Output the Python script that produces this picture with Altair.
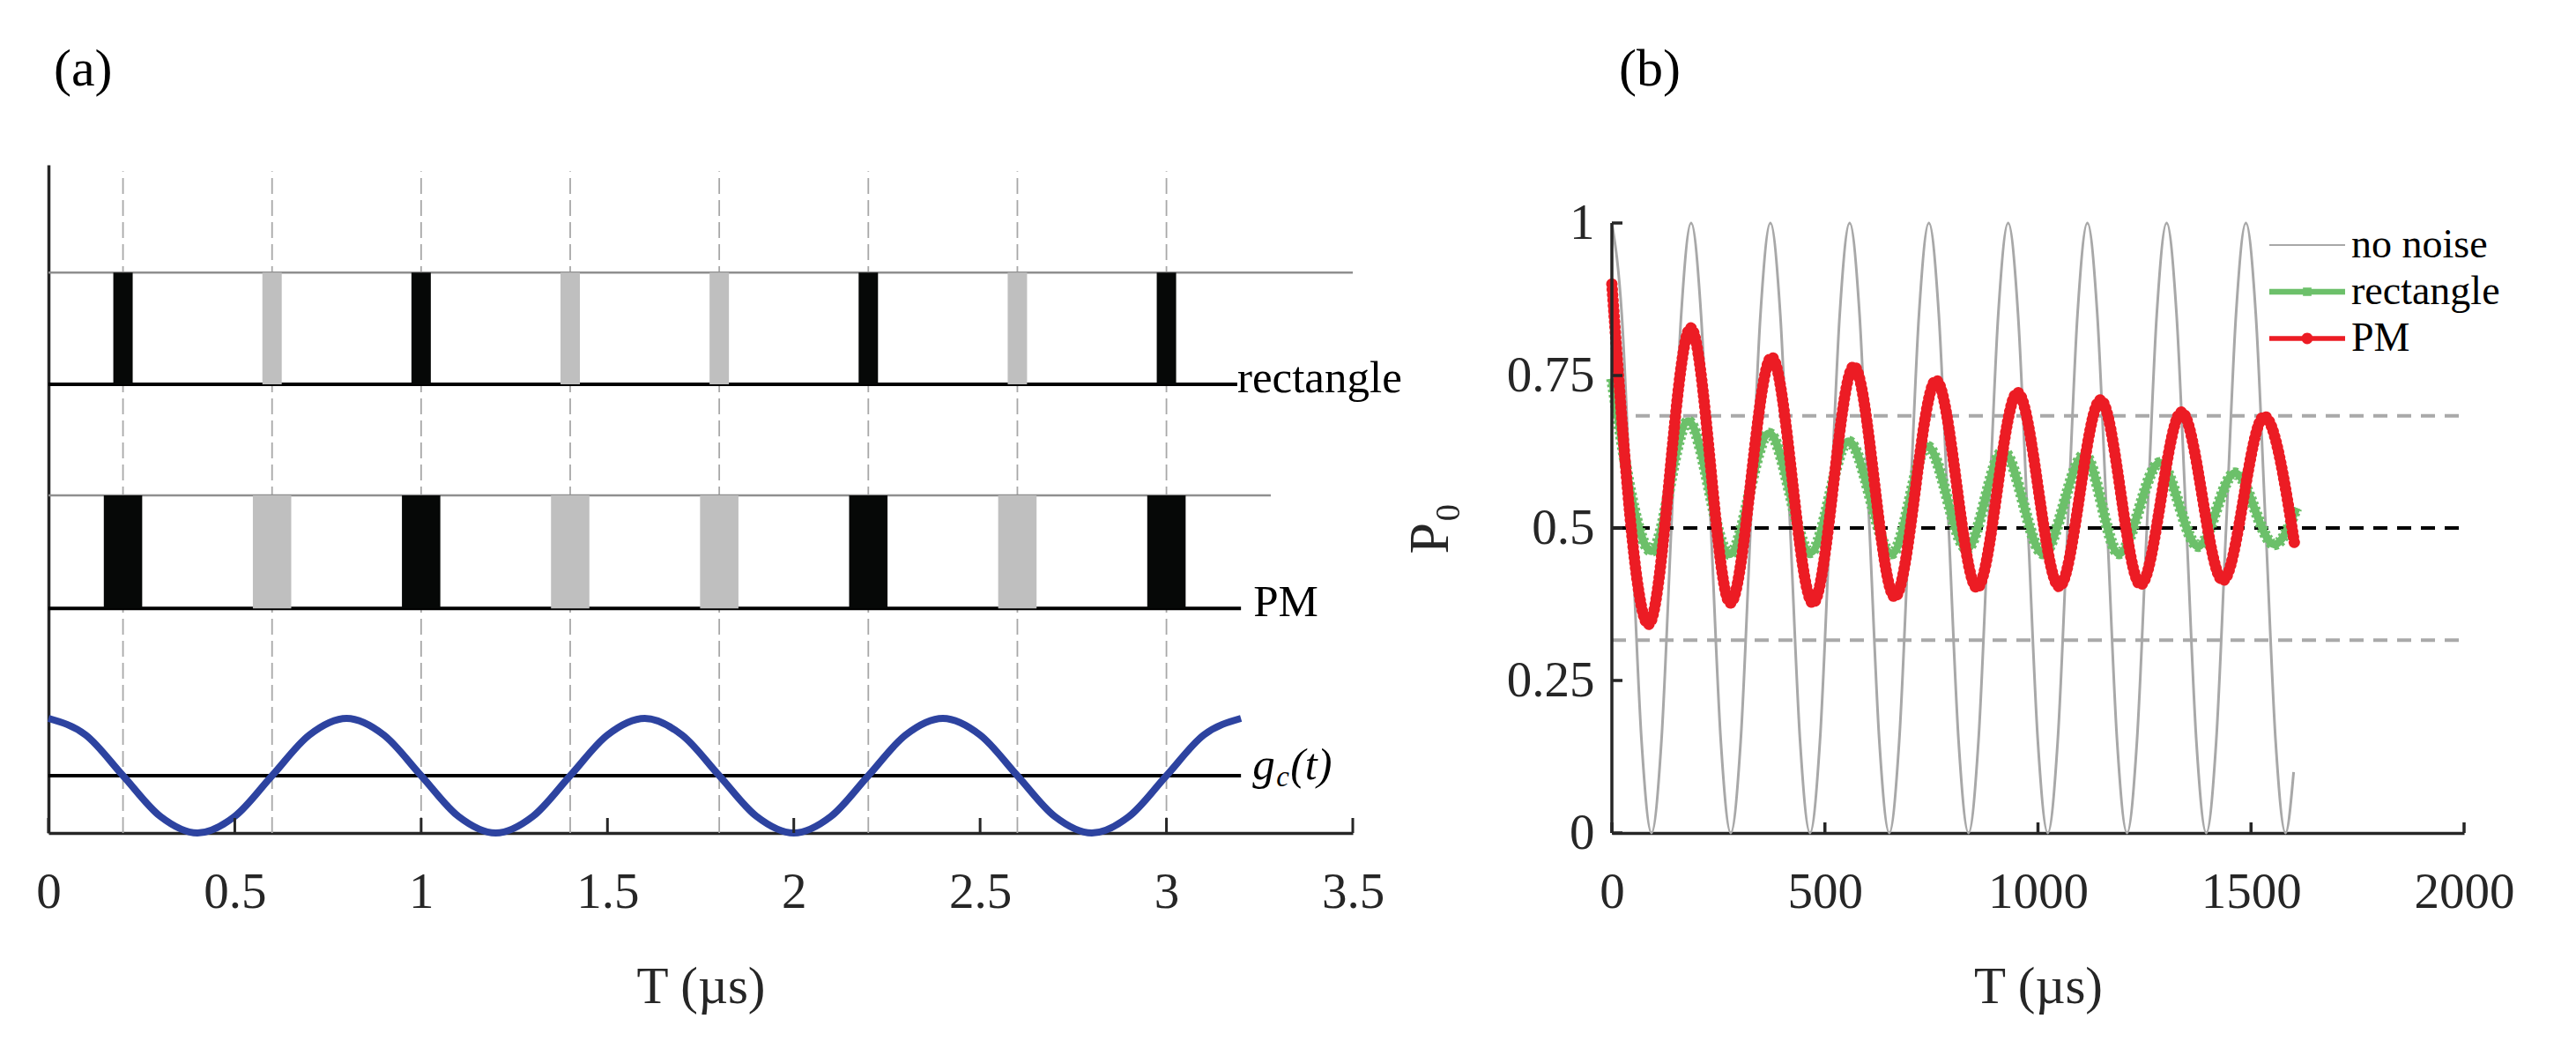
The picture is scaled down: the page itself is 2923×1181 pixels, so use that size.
import altair as alt
import pandas as pd

# ================= panel (a) : pulse sequences and g_c(t) =================
pulse_centers = [0.2, 0.6, 1.0, 1.4, 1.8, 2.2, 2.6, 3.0]
pulse_shade = ["dark", "light", "dark", "light", "light", "dark", "light", "dark"]
rect_pulse_width = 0.052
pm_pulse_width = 0.103
rect_row = [6.83, 8.78]      # bottom / top level of the "rectangle" row
pm_row = [2.92, 4.89]        # bottom / top level of the "PM" row
marker_span = [-1.0, 10.55]  # extent of the dashed pulse markers

base_y = [6.83, 2.92, 0.0]
base_end = [3.19, 3.20, 3.20]
top_y = [8.78, 4.89]
top_end = [3.50, 3.28]

gc_t = [0.0, 0.1, 0.2, 0.3, 0.4, 0.5, 0.6, 0.7, 0.8, 0.9, 1.0, 1.1, 1.2, 1.3, 1.4, 1.5, 1.6,
        1.7, 1.8, 1.9, 2.0, 2.1, 2.2, 2.3, 2.4, 2.5, 2.6, 2.7, 2.8, 2.9, 3.0, 3.1, 3.2]
gc_v = [1, 0.71, 0, -0.71, -1, -0.71, 0, 0.71, 1, 0.71, 0, -0.71, -1, -0.71, 0, 0.71, 1,
        0.71, 0, -0.71, -1, -0.71, 0, 0.71, 1, 0.71, 0, -0.71, -1, -0.71, 0, 0.71, 1]

a_ticks = [0, 0.5, 1, 1.5, 2, 2.5, 3, 3.5]

# ================= panel (b) : P0 vs T =================
gray_T = [0, 23.25, 46.5, 69.75, 93, 116.25, 139.5, 162.75, 186, 209.25, 232.5, 255.75, 279,
          302.25, 325.5, 348.75, 372, 395.25, 418.5, 441.75, 465, 488.25, 511.5, 534.75, 558,
          581.25, 604.5, 627.75, 651, 674.25, 697.5, 720.75, 744, 767.25, 790.5, 813.75, 837,
          860.25, 883.5, 906.75, 930, 953.25, 976.5, 999.75, 1023, 1046.25, 1069.5, 1092.75,
          1116, 1139.25, 1162.5, 1185.75, 1209, 1232.25, 1255.5, 1278.75, 1302, 1325.25,
          1348.5, 1371.75, 1395, 1418.25, 1441.5, 1464.75, 1488, 1511.25, 1534.5, 1557.75,
          1581, 1600]
gray_P = [1, 0.85, 0.5, 0.15, 0, 0.15, 0.5, 0.85,
          1, 0.85, 0.5, 0.15, 0, 0.15, 0.5, 0.85,
          1, 0.85, 0.5, 0.15, 0, 0.15, 0.5, 0.85,
          1, 0.85, 0.5, 0.15, 0, 0.15, 0.5, 0.85,
          1, 0.85, 0.5, 0.15, 0, 0.15, 0.5, 0.85,
          1, 0.85, 0.5, 0.15, 0, 0.15, 0.5, 0.85,
          1, 0.85, 0.5, 0.15, 0, 0.15, 0.5, 0.85,
          1, 0.85, 0.5, 0.15, 0, 0.15, 0.5, 0.85,
          1, 0.85, 0.5, 0.15, 0, 0.1]

green_T = [0, 93, 179, 276, 369, 466, 555, 657, 740, 833, 918, 1012, 1109, 1190, 1286,
           1376, 1462, 1555, 1607]
green_P = [0.745, 0.462, 0.675, 0.457, 0.655, 0.46, 0.642, 0.458, 0.634, 0.466, 0.626,
           0.458, 0.62, 0.458, 0.607, 0.47, 0.59, 0.473, 0.533]

red_T = [0, 86, 185, 278, 375, 472, 568, 664, 761, 857, 952, 1050, 1147, 1241, 1337, 1434,
         1531, 1603]
red_P = [0.90, 0.342, 0.828, 0.377, 0.78, 0.377, 0.765, 0.387, 0.742, 0.402, 0.722, 0.404,
         0.71, 0.407, 0.69, 0.414, 0.683, 0.47]

gray_levels = [0.684, 0.316]
black_levels = [0.5]
level_span = [0, 2000]

b_xticks = [0, 500, 1000, 1500, 2000]
b_yticks = [0, 0.25, 0.5, 0.75, 1]

series_names = ["no noise", "rectangle", "PM"]
series_colors = ["#a8a8a8", "#6cc06a", "#ec1c24"]
series_symbols = [
    "M-4,-0.1H4V0.1H-4Z",
    "M-4,-0.3H4V0.3H-4Z M-0.45,-0.45H0.45V0.45H-0.45Z",
    "M-4,-0.25H4V0.25H-4Z M-0.6,0A0.6,0.6 0 1,1 0.6,0A0.6,0.6 0 1,1 -0.6,0Z",
]

FONT = "Liberation Serif"
INK = "#262626"
LABEL_EXPR = "'' + datum.value"

# ------------------------------------------------------------------ panel (a)
A_W, A_H = 1480, 758
sx_a = alt.Scale(domain=[0, 3.5], nice=False, zero=False)
sy_a = alt.Scale(domain=[-1, 10.66], nice=False, zero=False)
axis_x_a = alt.Axis(values=a_ticks, labelExpr=LABEL_EXPR, title="T (µs)", labelPadding=39,
                    titlePadding=50, labelFlush=False, labelOverlap=False)
axis_y_a = alt.Axis(labels=False, ticks=False, title=None, domain=True)


def XA(f):
    return alt.X(f, type="quantitative", scale=sx_a, axis=axis_x_a)


def YA(f):
    return alt.Y(f, type="quantitative", scale=sy_a, axis=axis_y_a)


markers_df = pd.DataFrame({"t": pulse_centers, "y0": marker_span[0], "y1": marker_span[1]})
pulses_df = pd.concat([
    pd.DataFrame({"t": pulse_centers, "shade": pulse_shade, "w": rect_pulse_width,
                  "y0": rect_row[0], "y1": rect_row[1]}),
    pd.DataFrame({"t": pulse_centers, "shade": pulse_shade, "w": pm_pulse_width,
                  "y0": pm_row[0], "y1": pm_row[1]}),
])
base_df = pd.DataFrame({"x0": [0, 0, 0], "x1": base_end, "y": base_y})
top_df = pd.DataFrame({"x0": [0, 0], "x1": top_end, "y": top_y})
gc_df = pd.DataFrame({"t": gc_t, "v": gc_v})
a_tick_df = pd.DataFrame({"t": a_ticks})

a_markers = alt.Chart(markers_df).mark_rule(color="#a8a8a8", strokeWidth=1.8,
                                            strokeDash=[18, 7]).encode(
    x=XA("t"), y=YA("y0"), y2="y1")
a_top = alt.Chart(top_df).mark_rule(color="#8f8f8f", strokeWidth=2.5).encode(
    x=XA("x0"), x2="x1", y=YA("y"))
a_base = alt.Chart(base_df).mark_rule(color="black", strokeWidth=4).encode(
    x=XA("x0"), x2="x1", y=YA("y"))
a_pulses = alt.Chart(pulses_df).transform_calculate(
    x0="datum.t - datum.w / 2", x1="datum.t + datum.w / 2"
).mark_rect().encode(
    x=XA("x0:Q"), x2="x1:Q", y=YA("y0"), y2="y1",
    color=alt.Color("shade:N", scale=alt.Scale(domain=["dark", "light"],
                                               range=["#060807", "#bfbfbf"]), legend=None))
a_gc = alt.Chart(gc_df).mark_line(color="#2d43a0", strokeWidth=8,
                                  interpolate="monotone").encode(x=XA("t"), y=YA("v"))
a_ticks_in = alt.Chart(a_tick_df).mark_rule(color=INK, strokeWidth=3).encode(
    x=XA("t"), y=alt.value(A_H), y2=alt.value(A_H - 17))

lab_rect = alt.Chart(pd.DataFrame({"x": [base_end[0]], "y": [base_y[0]], "s": ["rectangle"]})).mark_text(
    align="left", baseline="alphabetic", dx=0, dy=9, font=FONT, fontSize=51, color="black").encode(
    x=XA("x"), y=YA("y"), text="s:N")
lab_pm = alt.Chart(pd.DataFrame({"x": [base_end[1]], "y": [base_y[1]], "s": ["PM"]})).mark_text(
    align="left", baseline="alphabetic", dx=14, dy=9, font=FONT, fontSize=51, color="black").encode(
    x=XA("x"), y=YA("y"), text="s:N")
gc_lab_df = pd.DataFrame({"x": [base_end[2]], "y": [base_y[2]], "g": ["g"], "c": ["c"], "t": ["(t)"]})
lab_g = alt.Chart(gc_lab_df).mark_text(
    align="left", baseline="alphabetic", dx=13, dy=4, font=FONT, fontSize=51,
    fontStyle="italic", color="black").encode(x=XA("x"), y=YA("y"), text="g:N")
lab_c = alt.Chart(gc_lab_df).mark_text(
    align="left", baseline="alphabetic", dx=40, dy=12, font=FONT, fontSize=33,
    fontStyle="italic", color="black").encode(x=XA("x"), y=YA("y"), text="c:N")
lab_t = alt.Chart(gc_lab_df).mark_text(
    align="left", baseline="alphabetic", dx=56, dy=4, font=FONT, fontSize=50,
    fontStyle="italic", color="black").encode(x=XA("x"), y=YA("y"), text="t:N")

panel_a = alt.layer(
    a_markers, a_top, a_base, a_pulses, a_gc, a_ticks_in, lab_rect, lab_pm, lab_g, lab_c, lab_t
).properties(
    width=A_W, height=A_H,
    title=alt.TitleParams("(a)", anchor="start", frame="group", offset=30, dx=6,
                          fontSize=60, font=FONT, fontWeight="normal", color="black",
                          baseline="alphabetic"))

# ------------------------------------------------------------------ panel (b)
# same outer height as panel (a); the value 1 sits 692 px above the axis
B_W, B_H = 967, 758
B_UNIT = 692
sx_b = alt.Scale(domain=[0, 2000], nice=False, zero=False)
sy_b = alt.Scale(domain=[0, B_H / B_UNIT], nice=False, zero=False)
axis_x_b = alt.Axis(values=b_xticks, labelExpr=LABEL_EXPR, title="T (µs)", labelPadding=39,
                    titlePadding=50, labelFlush=False, labelOverlap=False)
axis_y_b = alt.Axis(values=b_yticks, labelExpr=LABEL_EXPR, title="P₀", labelPadding=20,
                    titlePadding=54, titleFontSize=64, titleY=B_H - B_UNIT / 2,
                    labelFlush=False, labelOverlap=False, domain=False)


def XB(f):
    return alt.X(f, type="quantitative", scale=sx_b, axis=axis_x_b)


def YB(f):
    return alt.Y(f, type="quantitative", scale=sy_b, axis=axis_y_b)


gray_df = pd.DataFrame({"T": gray_T, "P": gray_P})
green_df = pd.DataFrame({"T": green_T, "P": green_P})
red_df = pd.DataFrame({"T": red_T, "P": red_P})
glev_df = pd.DataFrame({"y": gray_levels, "x0": level_span[0], "x1": level_span[1]})
blev_df = pd.DataFrame({"y": black_levels, "x0": level_span[0], "x1": level_span[1]})
bx_df = pd.DataFrame({"T": b_xticks})
by_df = pd.DataFrame({"P": b_yticks})
yline_df = pd.DataFrame({"y0": [min(b_yticks)], "y1": [max(b_yticks)]})
leg_df = pd.DataFrame({"series": series_names})

b_gray = alt.Chart(gray_df).mark_line(color=series_colors[0], strokeWidth=3,
                                      interpolate="monotone").encode(x=XB("T"), y=YB("P"))
b_glev = alt.Chart(glev_df).mark_rule(color="#a9a9a9", strokeWidth=4, strokeDash=[16, 11]).encode(
    x=XB("x0"), x2="x1", y=YB("y"))
b_blev = alt.Chart(blev_df).mark_rule(color="black", strokeWidth=4, strokeDash=[16, 11]).encode(
    x=XB("x0"), x2="x1", y=YB("y"))
b_green = alt.Chart(green_df).mark_line(color=series_colors[1], strokeWidth=9,
                                        interpolate="monotone").encode(x=XB("T"), y=YB("P"))
b_green_m = alt.Chart(green_df).mark_line(color=series_colors[1], strokeWidth=13,
                                          strokeDash=[3, 3], interpolate="monotone").encode(
    x=XB("T"), y=YB("P"))
b_red = alt.Chart(red_df).mark_line(color=series_colors[2], strokeWidth=6,
                                    interpolate="monotone").encode(x=XB("T"), y=YB("P"))
b_red_m = alt.Chart(red_df).mark_line(color=series_colors[2], strokeWidth=13,
                                      strokeDash=[0.1, 6], strokeCap="round",
                                      interpolate="monotone").encode(x=XB("T"), y=YB("P"))
b_yline = alt.Chart(yline_df).mark_rule(color=INK, strokeWidth=3.5).encode(
    x=alt.value(0), y=YB("y0"), y2="y1")
b_xt = alt.Chart(bx_df).mark_rule(color=INK, strokeWidth=3.5).encode(
    x=XB("T"), y=alt.value(B_H), y2=alt.value(B_H - 12))
b_yt = alt.Chart(by_df).mark_rule(color=INK, strokeWidth=3.5).encode(
    y=YB("P"), x=alt.value(0), x2=alt.value(12))

fill_expr = "datum.value === '%s' ? '%s' : (datum.value === '%s' ? '%s' : '%s')" % (
    series_names[2], series_colors[2], series_names[1], series_colors[1], series_colors[0])
legend = alt.Legend(orient="none", legendX=2540, legendY=68, title=None, symbolSize=462,
                    labelFont=FONT, labelFontSize=46, labelColor="black", labelOffset=27,
                    rowPadding=7, padding=0, labelLimit=400, symbolOpacity=1,
                    symbolStrokeWidth=0, symbolFillColor={"expr": fill_expr})
b_legend = alt.Chart(leg_df).mark_point(filled=True, opacity=0).encode(
    color=alt.Color("series:N", scale=alt.Scale(domain=series_names, range=series_colors),
                    legend=legend),
    shape=alt.Shape("series:N", scale=alt.Scale(domain=series_names, range=series_symbols),
                    legend=legend))

panel_b = alt.layer(
    b_gray, b_glev, b_blev, b_green, b_green_m, b_red, b_red_m, b_yline, b_xt, b_yt, b_legend
).properties(
    width=B_W, height=B_H,
    title=alt.TitleParams("(b)", anchor="start", frame="group", offset=30, dx=8,
                          fontSize=60, font=FONT, fontWeight="normal", color="black",
                          baseline="alphabetic"))

chart = alt.hconcat(panel_a, panel_b, spacing=-2).properties(
    padding={"left": 30, "top": 40, "right": 5, "bottom": 5}
).configure_axis(
    domainColor=INK, domainWidth=3.5, ticks=False, grid=False,
    labelFont=FONT, labelFontSize=57, labelColor=INK,
    titleFont=FONT, titleFontSize=59, titleFontWeight="normal", titleColor=INK
).configure_view(stroke="transparent")

chart.save("out.html", embed_options={"renderer": "svg", "actions": False})
